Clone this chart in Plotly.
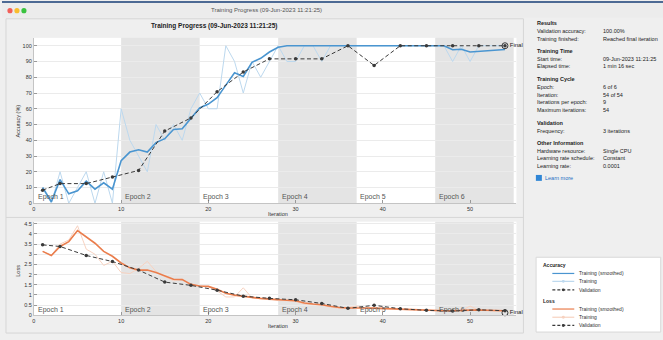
import plotly.graph_objects as go

# ---------------- data ----------------
iterations = list(range(1, 55))

acc_train = [10, 0, 20, 0, 10, 20, 0, 20, 0, 60,
             40, 30, 20, 50, 40, 50, 40, 60, 70, 60,
             60, 100, 90, 70, 90, 80, 90, 100, 90, 90,
             100, 100, 90, 100, 100, 100, 100, 100, 100, 100,
             100, 100, 100, 100, 100, 100, 100, 90, 100, 90,
             100, 100, 100, 100]
acc_smooth = [10, 1, 15, 6, 8, 14, 9, 13, 9, 27,
              32.5, 34, 32.5, 38.5, 41, 46.8, 47.3, 54, 60.5, 63,
              67, 75, 82.8, 80.5, 89.5, 92, 96, 99, 100, 100,
              100, 100, 100, 100, 100, 100, 100, 100, 100, 100,
              100, 100, 100, 100, 100, 100, 100, 97.5, 97.8, 96,
              96.5, 97, 97.3, 97.6]
val_iters = [1, 3, 6, 9, 12, 15, 18, 21, 24, 27, 30, 33, 36, 39, 42, 45, 48, 51, 54]
acc_val = [8.33, 12.5, 12.5, 16.67, 20.83, 45.83, 54.17, 70.83, 83.33, 91.67,
           91.67, 91.67, 100, 87.5, 100, 100, 100, 100, 100]

loss_train = [3.14, 2.94, 3.50, 3.70, 4.40, 3.25, 3.00, 2.45, 2.65, 2.10,
              2.05, 2.30, 2.65, 2.15, 1.90, 1.70, 1.78, 1.45, 1.45, 1.40,
              1.20, 0.90, 0.90, 1.35, 0.85, 0.80, 0.78, 0.72, 0.72, 0.68,
              0.55, 0.52, 0.50, 0.40, 0.35, 0.38, 0.45, 0.33, 0.33, 0.32,
              0.30, 0.27, 0.25, 0.24, 0.22, 0.22, 0.21, 0.22, 0.23, 0.45,
              0.25, 0.22, 0.21, 0.20]
loss_smooth = [3.14, 2.94, 3.38, 3.62, 4.16, 3.87, 3.54, 3.14, 2.90, 2.57,
               2.33, 2.22, 2.22, 2.10, 1.93, 1.77, 1.75, 1.52, 1.44, 1.42,
               1.28, 1.08, 0.99, 0.95, 0.88, 0.83, 0.79, 0.76, 0.74, 0.71,
               0.60, 0.55, 0.52, 0.44, 0.38, 0.36, 0.37, 0.36, 0.35, 0.33,
               0.31, 0.29, 0.27, 0.25, 0.23, 0.23, 0.22, 0.22, 0.22, 0.25,
               0.26, 0.25, 0.23, 0.22]
loss_val = [3.46, 3.38, 2.94, 2.64, 2.22, 1.63, 1.47, 1.23, 0.94, 0.83,
            0.76, 0.58, 0.34, 0.49, 0.32, 0.24, 0.21, 0.27, 0.22]

final_iter = 54
final_acc = 100.0
final_loss = 0.12

epoch_starts = [0, 10, 19, 28, 37, 46]
epoch_ends = [10, 19, 28, 37, 46, 55]
epoch_labels = ["Epoch 1", "Epoch 2", "Epoch 3", "Epoch 4", "Epoch 5", "Epoch 6"]

iter_ticks = [0, 10, 20, 30, 40, 50]
acc_ticks = list(range(0, 101, 10))
loss_ticks = [0, 0.5, 1, 1.5, 2, 2.5, 3, 3.5, 4, 4.5]
loss_tick_text = ["0", "0.5", "1", "1.5", "2", "2.5", "3", "3.5", "4", "4.5"]

info_rows = [
    ("Results", None, True),
    ("Validation accuracy:", "100.00%", False),
    ("Training finished:", "Reached final iteration", False),
    ("Training Time", None, True),
    ("Start time:", "09-Jun-2023 11:21:25", False),
    ("Elapsed time:", "1 min 16 sec", False),
    ("Training Cycle", None, True),
    ("Epoch:", "6 of 6", False),
    ("Iteration:", "54 of 54", False),
    ("Iterations per epoch:", "9", False),
    ("Maximum iterations:", "54", False),
    ("Validation", None, True),
    ("Frequency:", "3 iterations", False),
    ("Other Information", None, True),
    ("Hardware resource:", "Single CPU", False),
    ("Learning rate schedule:", "Constant", False),
    ("Learning rate:", "0.0001", False),
]
info_y = [22.3, 30.7, 38.3, 50.7, 58.3, 66, 79, 87.3, 95, 102.7, 110.7,
          123.3, 131.7, 143.3, 151.7, 159.3, 167.3]

# ---------------- styling ----------------
W, H = 663, 340
FONT = "Liberation Sans, Arial, sans-serif"
C_ACC = "#4a95d0"
C_ACC_RAW = "#bcd8ee"
C_LOSS = "#ea7d4c"
C_LOSS_RAW = "#f7d2c0"
C_VAL = "#3a3a3a"
BAND = "#e4e4e4"
BG = "#efefef"


def fx(p):
    return p / W


def fy(p):
    return 1 - p / H


def note(x, y, text, size=5.5, color="#222", xanchor="center", xref="paper", **kw):
    d = dict(xref=xref, yref="paper", x=x, y=y, text=text, showarrow=False,
             xanchor=xanchor, yanchor="middle",
             font=dict(size=size, color=color, family=FONT))
    d.update(kw)
    return d


PX0, PX1 = 32, 516
XR = [0, (PX1 - PX0) / 8.75]

fig = go.Figure()

# accuracy traces
fig.add_trace(go.Scatter(x=iterations, y=acc_train, mode="lines",
                         line=dict(color=C_ACC_RAW, width=1), xaxis="x", yaxis="y"))
fig.add_trace(go.Scatter(x=iterations, y=acc_smooth, mode="lines",
                         line=dict(color=C_ACC, width=1.6), xaxis="x", yaxis="y"))
fig.add_trace(go.Scatter(x=val_iters, y=acc_val, mode="lines+markers",
                         line=dict(color=C_VAL, width=1, dash="4px,2.5px"),
                         marker=dict(color=C_VAL, size=3.5), xaxis="x", yaxis="y"))
fig.add_trace(go.Scatter(x=[final_iter], y=[final_acc], mode="markers+text",
                         marker=dict(color="rgba(0,0,0,0)", size=6,
                                     line=dict(color=C_VAL, width=1)),
                         text=["Final"], textposition="middle right",
                         textfont=dict(size=6, color="#222", family=FONT),
                         cliponaxis=False, xaxis="x", yaxis="y"))

# loss traces
fig.add_trace(go.Scatter(x=iterations, y=loss_train, mode="lines",
                         line=dict(color=C_LOSS_RAW, width=1), xaxis="x2", yaxis="y2"))
fig.add_trace(go.Scatter(x=iterations, y=loss_smooth, mode="lines",
                         line=dict(color=C_LOSS, width=1.6), xaxis="x2", yaxis="y2"))
fig.add_trace(go.Scatter(x=val_iters, y=loss_val, mode="lines+markers",
                         line=dict(color=C_VAL, width=1, dash="4px,2.5px"),
                         marker=dict(color=C_VAL, size=3.5), xaxis="x2", yaxis="y2"))
fig.add_trace(go.Scatter(x=[final_iter], y=[final_loss], mode="markers+text",
                         marker=dict(color="rgba(0,0,0,0)", size=6,
                                     line=dict(color=C_VAL, width=1)),
                         text=["Final"], textposition="middle right",
                         textfont=dict(size=6, color="#222", family=FONT),
                         cliponaxis=False, xaxis="x2", yaxis="y2"))

shapes = []
annotations = []

# window chrome
shapes.append(dict(type="rect", xref="paper", yref="paper", x0=0, x1=1,
                   y0=fy(17), y1=fy(2), fillcolor="#ececec", line=dict(width=0),
                   layer="below"))
shapes.append(dict(type="rect", xref="paper", yref="paper", x0=0, x1=1,
                   y0=fy(2), y1=1, fillcolor="#4d6a94", line=dict(width=0),
                   layer="below"))
for cx, col in [(8, "#f25f58"), (15, "#f9bd2e"), (22, "#3ac340")]:
    shapes.append(dict(type="circle", xref="paper", yref="paper",
                       x0=fx(cx - 2.6), x1=fx(cx + 2.6), y0=fy(9.8 + 2.6), y1=fy(9.8 - 2.6),
                       fillcolor=col, line=dict(width=0)))
annotations.append(note(fx(265), fy(9.5), "Training Progress (09-Jun-2023 11:21:25)",
                        size=6, color="#555"))
# left panel frame
shapes.append(dict(type="rect", xref="paper", yref="paper", x0=fx(4), x1=fx(523),
                   y0=fy(336), y1=fy(18), line=dict(color="#d6d6d6", width=1),
                   fillcolor="rgba(0,0,0,0)", layer="below"))
shapes.append(dict(type="line", xref="paper", yref="paper", x0=fx(4), x1=fx(523),
                   y0=fy(219), y1=fy(219), line=dict(color="#d6d6d6", width=1)))

# epoch bands + labels
for xa, ya, ylab in [("x", "y", 198.5), ("x2", "y2", 312.5)]:
    for i, (s, e, lab) in enumerate(zip(epoch_starts, epoch_ends, epoch_labels)):
        if i % 2 == 1:
            shapes.append(dict(type="rect", xref=xa, yref=ya + " domain", x0=s, x1=e,
                               y0=0, y1=1, fillcolor=BAND, line=dict(width=0),
                               layer="below"))
        annotations.append(note(s + 0.2, fy(ylab), lab, size=7, color="#555",
                                xanchor="left", xref=xa))

# main title
annotations.append(note(fx(213), fy(25), "<b>Training Progress (09-Jun-2023 11:21:25)</b>",
                        size=6.5))

# axis titles
annotations.append(note(fx(16), fy(121), "Accuracy (%)", color="#333", textangle=-90))
annotations.append(note(fx(277), fy(216), "Iteration", color="#333"))
annotations.append(note(fx(16), fy(273), "Loss", color="#333", textangle=-90))
annotations.append(note(fx(277), fy(328.5), "Iteration", color="#333"))

# right info panel
for (lab, val, bold), yy in zip(info_rows, info_y):
    annotations.append(note(fx(535), fy(yy), f"<b>{lab}</b>" if bold else lab,
                            xanchor="left"))
    if val:
        annotations.append(note(fx(601), fy(yy), val, xanchor="left"))
shapes.append(dict(type="rect", xref="paper", yref="paper", x0=fx(535.5), x1=fx(541.5),
                   y0=fy(182), y1=fy(176), fillcolor="#2f86d6", line=dict(width=0)))
annotations.append(note(fx(543), fy(179), "Learn more", color="#1a6fc4", xanchor="left"))

# manual legend
shapes.append(dict(type="rect", xref="paper", yref="paper", x0=fx(535.7), x1=fx(660.7),
                   y0=fy(335), y1=fy(259.3), fillcolor="white",
                   line=dict(color="#d8d8d8", width=1)))
leg = [
    (267.3, "Accuracy", None, None, True),
    (275.7, "Training (smoothed)", C_ACC, "solid", False),
    (283.7, "Training", C_ACC_RAW, "solid", False),
    (292.3, "Validation", C_VAL, "dash", False),
    (303.3, "Loss", None, None, True),
    (311.7, "Training (smoothed)", C_LOSS, "solid", False),
    (320.0, "Training", C_LOSS_RAW, "solid", False),
    (328.3, "Validation", C_VAL, "dash", False),
]
for yy, lab, col, dash, head in leg:
    if head:
        annotations.append(note(fx(540.5), fy(yy), f"<b>{lab}</b>", size=5,
                                xanchor="left"))
        continue
    shapes.append(dict(type="line", xref="paper", yref="paper", x0=fx(552), x1=fx(574),
                       y0=fy(yy), y1=fy(yy),
                       line=dict(color=col, width=1.2,
                                 dash="3px,2px" if dash == "dash" else "solid")))
    if lab != "Training (smoothed)":
        shapes.append(dict(type="circle", xref="paper", yref="paper",
                           x0=fx(561.5), x1=fx(564.5), y0=fy(yy + 1.5), y1=fy(yy - 1.5),
                           fillcolor=col, line=dict(width=0)))
    annotations.append(note(fx(577), fy(yy), lab, size=5, color="#333", xanchor="left"))

axis_common = dict(gridcolor="#ebebeb", gridwidth=1, zeroline=False,
                   showline=True, linecolor="#c4c4c4", linewidth=1,
                   ticks="inside", ticklen=3, tickcolor="#999",
                   tickfont=dict(size=5.5, color="#333", family=FONT))

fig.update_layout(
    width=W, height=H, margin=dict(l=0, r=0, t=0, b=0),
    paper_bgcolor=BG, plot_bgcolor="white", showlegend=False,
    font=dict(family=FONT),
    xaxis=dict(domain=[fx(PX0), fx(PX1)], range=XR, anchor="y", tickvals=iter_ticks,
               showgrid=False, **axis_common),
    yaxis=dict(domain=[fy(204.7), fy(37.3)], range=[0, 105], anchor="x",
               tickvals=acc_ticks, showgrid=True, **axis_common),
    xaxis2=dict(domain=[fx(PX0), fx(PX1)], range=XR, anchor="y2", tickvals=iter_ticks,
                showgrid=False, **axis_common),
    yaxis2=dict(domain=[fy(318), fy(223.3)], range=[0, 4.6], anchor="x2",
                tickvals=loss_ticks, ticktext=loss_tick_text, showgrid=True, **axis_common),
    shapes=shapes, annotations=annotations, hovermode=False,
)

fig.write_html("out.html", config={"displayModeBar": False},
               post_script="document.body.style.margin='0';document.body.style.overflow='hidden';")
